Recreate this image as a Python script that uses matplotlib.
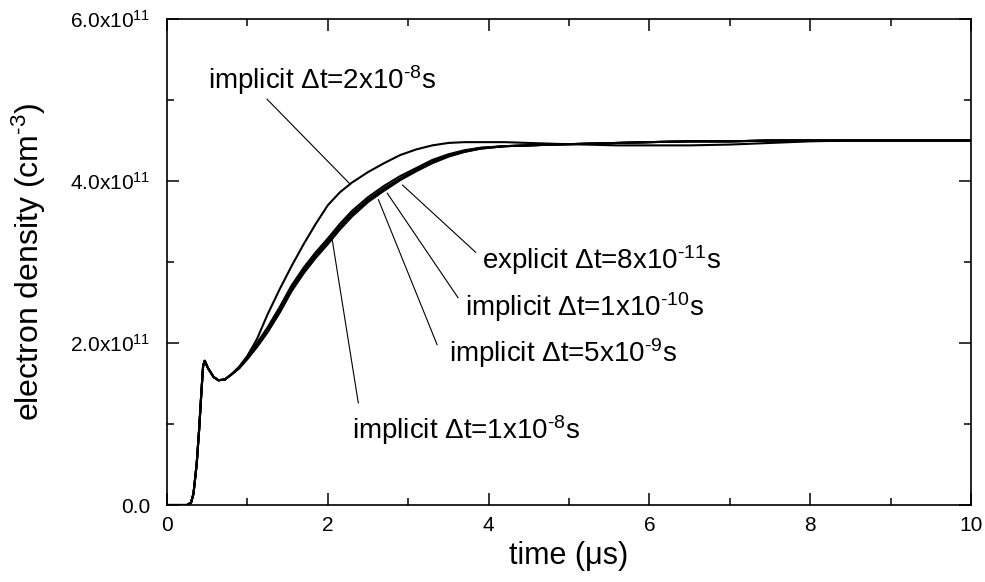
import matplotlib
matplotlib.use("Agg")
import matplotlib.pyplot as plt
from matplotlib.ticker import MultipleLocator, FuncFormatter

plt.rcParams['font.family'] = 'Liberation Sans'
plt.rcParams['mathtext.fontset'] = 'custom'
plt.rcParams['mathtext.rm'] = 'Liberation Sans'
plt.rcParams['mathtext.it'] = 'Liberation Sans:italic'
plt.rcParams['mathtext.bf'] = 'Liberation Sans:bold'

# time in microseconds, density in units of 1e11 cm^-3
time_us = [0, 0.25, 0.3, 0.33, 0.37, 0.40, 0.43, 0.45, 0.47, 0.51, 0.58, 0.64,
           0.72, 0.8, 0.9, 1.0, 1.12, 1.25, 1.4, 1.55, 1.7, 1.85, 2.0, 2.15,
           2.3, 2.5, 2.7, 2.9, 3.1, 3.3, 3.5, 3.7, 3.9, 4.2, 4.5, 4.8, 5.2,
           5.6, 6.0, 6.5, 7.0, 7.5, 8.0, 8.5, 9.0, 10]

explicit_8e11 = [0, 0, 0.03, 0.14, 0.51, 0.93, 1.42, 1.72, 1.78, 1.69, 1.58, 1.54,
                 1.55, 1.61, 1.69, 1.80, 1.95, 2.13, 2.37, 2.64, 2.86, 3.05, 3.22, 3.40,
                 3.56, 3.74, 3.88, 4.01, 4.12, 4.22, 4.30, 4.36, 4.40, 4.43, 4.44, 4.45, 4.46,
                 4.47, 4.48, 4.49, 4.49, 4.50, 4.50, 4.50, 4.50, 4.50]

implicit_1e10 = [0, 0, 0.03, 0.14, 0.51, 0.93, 1.42, 1.72, 1.78, 1.69, 1.58, 1.54,
                 1.55, 1.61, 1.69, 1.81, 1.96, 2.14, 2.38, 2.65, 2.87, 3.06, 3.23, 3.41,
                 3.57, 3.75, 3.89, 4.02, 4.13, 4.23, 4.31, 4.36, 4.40, 4.43, 4.44, 4.45, 4.46,
                 4.47, 4.48, 4.49, 4.49, 4.50, 4.50, 4.50, 4.50, 4.50]

implicit_5e9 = [0, 0, 0.03, 0.14, 0.51, 0.93, 1.42, 1.72, 1.78, 1.69, 1.58, 1.54,
                1.55, 1.61, 1.70, 1.83, 2.00, 2.19, 2.44, 2.71, 2.93, 3.12, 3.29, 3.47,
                3.63, 3.80, 3.94, 4.06, 4.16, 4.26, 4.33, 4.38, 4.41, 4.43, 4.44, 4.45, 4.46,
                4.47, 4.48, 4.49, 4.49, 4.50, 4.50, 4.50, 4.50, 4.50]

implicit_1e8 = [0, 0, 0.03, 0.14, 0.51, 0.93, 1.42, 1.72, 1.78, 1.69, 1.58, 1.54,
                1.55, 1.61, 1.70, 1.82, 1.98, 2.16, 2.40, 2.67, 2.90, 3.09, 3.26, 3.44,
                3.60, 3.77, 3.91, 4.03, 4.14, 4.24, 4.31, 4.37, 4.41, 4.43, 4.44, 4.45, 4.46,
                4.47, 4.48, 4.49, 4.49, 4.50, 4.50, 4.50, 4.50, 4.50]

implicit_2e8 = [0, 0, 0.03, 0.14, 0.51, 0.93, 1.42, 1.72, 1.78, 1.69, 1.58, 1.54,
                1.55, 1.61, 1.71, 1.84, 2.05, 2.35, 2.66, 2.95, 3.22, 3.47, 3.70, 3.86,
                3.98, 4.11, 4.22, 4.32, 4.39, 4.44, 4.47, 4.48, 4.48, 4.48, 4.47, 4.46, 4.45,
                4.44, 4.44, 4.44, 4.45, 4.47, 4.49, 4.50, 4.50, 4.50]

series = [explicit_8e11, implicit_1e10, implicit_5e9, implicit_1e8, implicit_2e8]

# label text, text anchor (t, n), leader start, leader end on curve
labels = ['explicit $\\Delta$t=8x10$^{\\text{-}11}$s',
          'implicit $\\Delta$t=1x10$^{\\text{-}10}$s',
          'implicit $\\Delta$t=5x10$^{\\text{-}9}$s',
          'implicit $\\Delta$t=1x10$^{\\text{-}8}$s',
          'implicit $\\Delta$t=2x10$^{\\text{-}8}$s']
label_pos = [(3.92, 3.02), (3.71, 2.44), (3.51, 1.88), (2.30, 0.93), (0.51, 5.25)]
leader_from = [(3.84, 3.12), (3.62, 2.56), (3.36, 1.98), (2.38, 1.26), (1.245, 5.01)]
leader_to = [(2.93, 3.95), (2.74, 3.85), (2.63, 3.77), (2.05, 3.31), (2.28, 3.96)]

fig = plt.figure(figsize=(9.85, 5.82), dpi=100)
ax = fig.add_axes([0.1695, 0.1323, 0.8162, 0.835])

for s in series:
    ax.plot(time_us, s, color='black', lw=1.5)

for txt, p, a, b in zip(labels, label_pos, leader_from, leader_to):
    ax.plot([a[0], b[0]], [a[1], b[1]], color='black', lw=0.8)
    ax.text(p[0], p[1], txt, fontsize=20, ha='left', va='center')

ax.set_xlim(0, 10)
ax.set_ylim(0, 6)
ax.xaxis.set_major_locator(MultipleLocator(2))
ax.xaxis.set_minor_locator(MultipleLocator(1))
ax.yaxis.set_major_locator(MultipleLocator(2))
ax.yaxis.set_minor_locator(MultipleLocator(1))


def yfmt(v, pos):
    if v == 0:
        return '0.0'
    return '%.1fx10$^{11}$' % v


ax.yaxis.set_major_formatter(FuncFormatter(yfmt))
ax.tick_params(which='both', direction='in', top=True, right=True, width=1.1)
ax.tick_params(which='major', length=8.5, labelsize=15)
ax.tick_params(which='minor', length=5)
ax.tick_params(axis='y', pad=12)
ax.tick_params(axis='x', pad=8)
for sp in ax.spines.values():
    sp.set_linewidth(1.2)

ax.set_xlabel('time (μs)', fontsize=22)
ax.set_ylabel('electron density (cm$^{\\text{-}3}$)', fontsize=23, labelpad=16)

fig.savefig('out.png', dpi=100)
